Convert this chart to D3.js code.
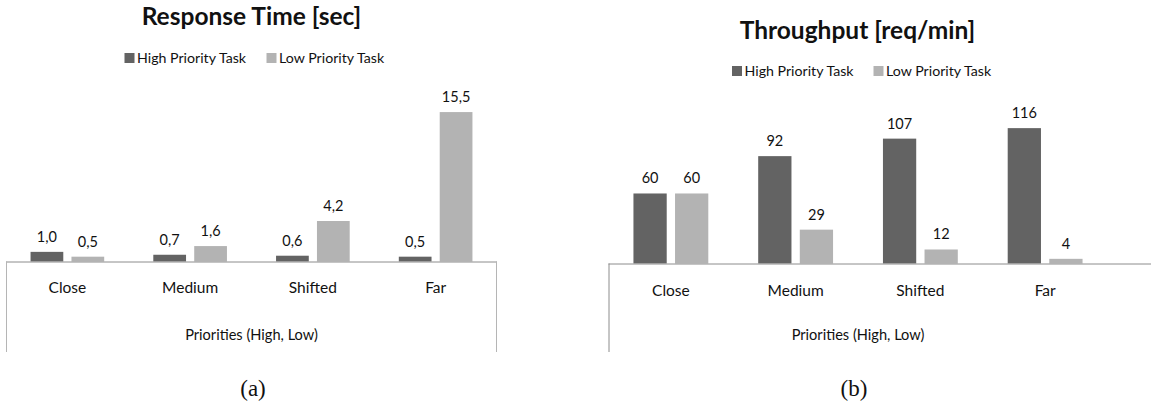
<!DOCTYPE html>
<html>
<head>
<meta charset="utf-8">
<script src="https://cdn.jsdelivr.net/npm/d3@7"></script>
<style>
  html, body { margin: 0; padding: 0; background: #fff; }
  svg { display: block; }
  text { font-family: Lato, "Open Sans", sans-serif; fill: #111; }
</style>
</head>
<body>
<svg id="chart" width="1151" height="408"></svg>
<script>
// Categories (priority pairs) and the two task series
const categories = ["Close", "Medium", "Shifted", "Far"];
const seriesNames = ["High Priority Task", "Low Priority Task"];

// Response time in seconds
const responseHigh = [1.0, 0.7, 0.6, 0.5];
const responseLow = [0.5, 1.6, 4.2, 15.5];

// Throughput in requests per minute
const throughputHigh = [60, 92, 107, 116];
const throughputLow = [60, 29, 12, 4];

const axisTitle = "Priorities (High, Low)";
const colors = ["#636363", "#b3b3b3"];

const svg = d3.select("#chart");

// Comma decimal formatting for the response-time labels
const fmtComma = v => d3.format(".1f")(v).replace(".", ",");
const fmtInt = d3.format("d");

function drawPanel(cfg) {
  const g = svg.append("g");
  const rows = categories.map((c, i) => ({ cat: c, vals: [cfg.high[i], cfg.low[i]] }));

  const x0 = d3.scaleBand().domain(categories).range([cfg.left, cfg.right]).padding(0);
  const bw = x0.bandwidth();
  const x1 = d3.scaleBand().domain([0, 1]).range([bw * 0.2, bw * 0.8]).paddingInner(0.2);
  const y = d3.scaleLinear().domain(cfg.yDomain).range([cfg.base, cfg.base - cfg.pxPerUnit * cfg.yDomain[1]]);

  // Title
  g.append("text")
    .attr("x", cfg.titleX).attr("y", cfg.titleY)
    .attr("text-anchor", "middle")
    .style("font-weight", "700").style("font-size", "24.5px")
    .text(cfg.title);

  // Legend
  const leg = g.append("g");
  seriesNames.forEach((name, i) => {
    leg.append("rect")
      .attr("x", cfg.legendX[i]).attr("y", cfg.legendY - 5)
      .attr("width", 10).attr("height", 10)
      .attr("fill", colors[i]);
    leg.append("text")
      .attr("x", cfg.legendX[i] + 12.5).attr("y", cfg.legendY)
      .attr("dy", "0.35em")
      .style("font-size", "14.2px")
      .text(name);
  });

  // Bars
  const groups = g.selectAll("g.grp").data(rows).join("g")
    .attr("class", "grp")
    .attr("transform", d => `translate(${x0(d.cat)},0)`);

  groups.selectAll("rect").data(d => d.vals).join("rect")
    .attr("x", (d, i) => x1(i))
    .attr("width", x1.bandwidth())
    .attr("y", d => y(d))
    .attr("height", d => y(0) - y(d))
    .attr("fill", (d, i) => colors[i]);

  groups.selectAll("text.val").data(d => d.vals).join("text")
    .attr("class", "val")
    .attr("x", (d, i) => x1(i) + x1.bandwidth() / 2)
    .attr("y", d => y(d) - 10)
    .attr("text-anchor", "middle")
    .style("font-size", "14.5px")
    .text(d => cfg.fmt(d));

  // Category axis (labels only, no ticks)
  const xAxis = d3.axisBottom(x0).tickSize(0).tickPadding(0);
  const ax = g.append("g").attr("transform", `translate(0,${cfg.base})`).call(xAxis);
  ax.select(".domain").remove();
  ax.selectAll("text")
    .attr("y", cfg.catOffset).attr("dy", "0.35em")
    .style("font-size", "15.5px")
    .style("font-family", "Lato, sans-serif")
    .attr("fill", "#111");

  // Frame lines around the category area
  g.append("line")
    .attr("x1", cfg.left).attr("x2", cfg.baseEnd)
    .attr("y1", cfg.base + 0.5).attr("y2", cfg.base + 0.5)
    .attr("stroke", "#8c8c8c").attr("stroke-width", 1);
  cfg.frameX.forEach(fx => {
    g.append("line")
      .attr("x1", fx).attr("x2", fx)
      .attr("y1", cfg.base).attr("y2", 352)
      .attr("stroke", cfg.frameColor).attr("stroke-width", 1);
  });

  // Axis title
  g.append("text")
    .attr("x", (cfg.left + cfg.right) / 2).attr("y", 335)
    .attr("dy", "0.35em")
    .attr("text-anchor", "middle")
    .style("font-size", "14.6px")
    .text(axisTitle);

  // Sub-figure caption
  g.append("text")
    .attr("x", cfg.capX).attr("y", 388)
    .attr("dy", "0.35em")
    .attr("text-anchor", "middle")
    .style("font-family", "'Liberation Serif', 'DejaVu Serif', serif")
    .style("font-size", "23px")
    .text(cfg.caption);
}

drawPanel({
  title: "Response Time [sec]", titleX: 251.5, titleY: 25,
  legendX: [124.5, 266.5], legendY: 58,
  high: responseHigh, low: responseLow,
  left: 6, right: 497, baseEnd: 497, base: 261.5,
  yDomain: [0, 16], pxPerUnit: 9.64,
  fmt: fmtComma, catOffset: 26.5,
  frameX: [6.5, 496.5], frameColor: "#b5b5b5",
  capX: 253, caption: "(a)"
});

drawPanel({
  title: "Throughput [req/min]", titleX: 857.5, titleY: 39,
  legendX: [732, 873.5], legendY: 71,
  high: throughputHigh, low: throughputLow,
  left: 608.5, right: 1107.5, baseEnd: 1151, base: 263.5,
  yDomain: [0, 120], pxPerUnit: 1.167,
  fmt: fmtInt, catOffset: 27.5,
  frameX: [609], frameColor: "#8c8c8c",
  capX: 854, caption: "(b)"
});
</script>
</body>
</html>
